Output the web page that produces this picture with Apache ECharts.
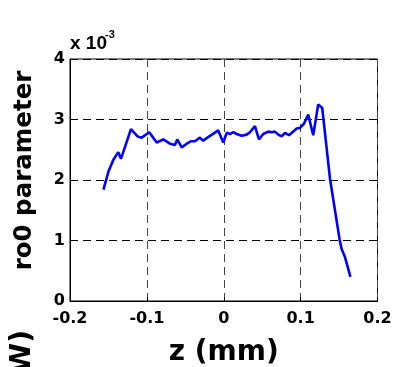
<!DOCTYPE html>
<html>
<head>
<meta charset="utf-8">
<script src="https://cdn.jsdelivr.net/npm/echarts@6/dist/echarts.min.js"></script>
<style>
  html, body { margin: 0; padding: 0; background: #fff; }
  #chart { width: 396px; height: 367px; }
</style>
</head>
<body>
<div id="chart"></div>
<script>
// Axial position z (mm)
const zValues = [
  -0.1565, -0.150, -0.1437, -0.1372, -0.1337, -0.1207, -0.112, -0.1068, -0.0969, -0.0873,
  -0.0787, -0.070, -0.0635, -0.0605, -0.0547, -0.0482, -0.043, -0.0375, -0.031, -0.0267,
  -0.0202, -0.0072, -0.0006, 0.0038, 0.0081, 0.0124, 0.0168, 0.0233, 0.0298, 0.0341,
  0.0406, 0.0458, 0.0514, 0.0579, 0.0623, 0.0666, 0.0709, 0.0753, 0.0796, 0.0848,
  0.0904, 0.0948, 0.0991, 0.1043, 0.1099, 0.1164, 0.1229, 0.1281, 0.1352, 0.1381,
  0.1508, 0.1533, 0.1576, 0.1648
];
// ro0 parameter, in units of 1e-3
const ro0Values = [
  1.84, 2.14, 2.33, 2.46, 2.35, 2.84, 2.72, 2.70, 2.79, 2.62,
  2.67, 2.60, 2.58, 2.67, 2.54, 2.60, 2.64, 2.64, 2.70, 2.65,
  2.71, 2.82, 2.62, 2.78, 2.76, 2.79, 2.76, 2.73, 2.75, 2.79,
  2.89, 2.67, 2.76, 2.80, 2.79, 2.80, 2.75, 2.72, 2.78, 2.74,
  2.80, 2.85, 2.86, 2.93, 3.08, 2.74, 3.25, 3.19, 2.37, 2.03,
  1.01, 0.86, 0.73, 0.40
];
const xTicks = [-0.2, -0.1, 0, 0.1, 0.2];
const yTicks = [0, 1, 2, 3, 4];

const FONT = '"DejaVu Sans", sans-serif';
const FONT_NARROW = '"Liberation Sans", Arial, sans-serif';
const chart = echarts.init(document.getElementById('chart'), null, { renderer: 'canvas' });

const points = zValues.map((z, i) => [z, ro0Values[i]]);

chart.setOption({
  animation: false,
  backgroundColor: '#ffffff',
  grid: {
    left: 70, right: 18.5, top: 59, bottom: 66,
    containLabel: false, outerBoundsMode: 'none',
    show: true, borderColor: '#000', borderWidth: 1
  },
  xAxis: {
    type: 'value',
    min: xTicks[0], max: xTicks[xTicks.length - 1], interval: 0.1,
    axisLine: { show: true, lineStyle: { color: '#000', width: 1 } },
    axisTick: { show: true, inside: true, length: 4, lineStyle: { color: '#000' } },
    axisLabel: {
      color: '#000', fontFamily: FONT, fontWeight: 'bold', fontSize: 16, margin: 10,
      formatter: v => String(Math.round(v * 10) / 10)
    },
    splitLine: { show: true, lineStyle: { color: '#444', type: [8, 5], width: 1 } },
    name: 'z (mm)',
    nameLocation: 'middle', nameGap: 38,
    nameTextStyle: { color: '#000', fontFamily: FONT, fontWeight: 'bold', fontSize: 28 }
  },
  yAxis: {
    type: 'value',
    min: yTicks[0], max: yTicks[yTicks.length - 1], interval: 1,
    axisLine: { show: true, onZero: false, lineStyle: { color: '#000', width: 1 } },
    axisTick: { show: true, inside: true, length: 4, lineStyle: { color: '#000' } },
    axisLabel: {
      color: '#000', fontFamily: FONT, fontWeight: 'bold', fontSize: 16, margin: 5,
      verticalAlign: 'middle', lineHeight: 12
    },
    splitLine: { show: true, lineStyle: { color: '#000', type: [8, 5], width: 1 } },
    name: 'ro0 parameter',
    nameLocation: 'middle', nameGap: 33,
    nameTextStyle: { color: '#000', fontFamily: FONT, fontWeight: 'bold', fontSize: 24.5,
      padding: [0, 0, 0, 19] }
  },
  graphic: [
    {
      type: 'text', left: 70, top: 34,
      style: { text: 'x 10', fill: '#000', font: 'bold 19px ' + FONT_NARROW }
    },
    {
      type: 'text', left: 105, top: 29,
      style: { text: '-3', fill: '#000', font: 'bold 11px ' + FONT_NARROW }
    },
    {
      type: 'group', x: 23, y: 330, rotation: Math.PI / 2,
      children: [{
        type: 'text', x: 0, y: 0,
        style: {
          text: 'W)', fill: '#000', font: 'bold 28px ' + FONT,
          align: 'right', verticalAlign: 'middle'
        }
      }]
    }
  ],
  series: [{
    type: 'line',
    data: points,
    showSymbol: false,
    lineStyle: { color: '#0000ff', width: 2.6 },
    itemStyle: { color: '#0000ff' }
  }]
});
</script>
</body>
</html>
